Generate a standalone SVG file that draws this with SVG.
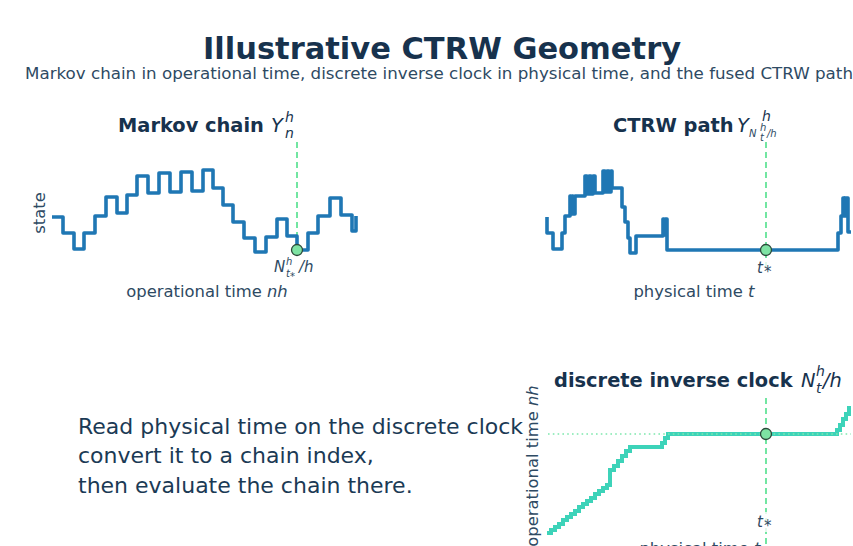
<svg xmlns="http://www.w3.org/2000/svg" width="853" height="546" viewBox="0 0 853 546">
<style>
text{font-family:"DejaVu Sans","Liberation Sans",sans-serif;fill:#1b3550}
.title{font-size:30.5px;font-weight:bold;fill:#17324d}
.sub{font-size:16.7px;fill:#2e4a63}
.pt{font-size:19.4px;font-weight:bold;fill:#17324d}
.mi{font-size:19.4px;font-style:italic;fill:#17324d}
.s14{font-size:14px;font-style:italic;fill:#17324d}
.ax{font-size:16.4px;fill:#2e4a63}
.sm{font-size:15px;font-style:italic;fill:#2e4a63}
.tiny{font-size:10px;font-style:italic;fill:#2e4a63}
.note{font-size:22px;fill:#1b3a55}
.chain{fill:none;stroke:#1f77b4;stroke-width:3.6;stroke-linejoin:round;stroke-linecap:butt}
.clock{fill:none;stroke:#3dd3b9;stroke-width:4;stroke-linejoin:miter}
.dash{fill:none;stroke:#72e6a2;stroke-width:2;stroke-dasharray:6 4}
.dot{fill:none;stroke:#7ee8ad;stroke-width:1.6;stroke-dasharray:1.6 3.2}
.mk{fill:#7ee3a3;stroke:#2c4a3b;stroke-width:1.3}
.bb{fill:#ffffff;fill-opacity:0.8}
</style>
<rect width="853" height="546" fill="#ffffff"/>
<g id="header">
<text class="title" x="442" y="59" text-anchor="middle">Illustrative CTRW Geometry</text>
<text class="sub" x="439" y="79" text-anchor="middle">Markov chain in operational time, discrete inverse clock in physical time, and the fused CTRW path</text>
</g>
<g id="markov-panel">
<text class="pt" x="118" y="132">Markov chain</text>
<text class="mi" x="271" y="132">Y</text>
<text class="s14" x="285" y="122">h</text>
<text class="s14" x="285" y="138">n</text>
<text class="ax" transform="translate(45,213) rotate(-90)" text-anchor="middle" font-size="17">state</text>
<text class="ax" x="207" y="297" text-anchor="middle">operational time <tspan font-style="italic">nh</tspan></text>
</g>
<g id="ctrw-panel">
<text class="pt" x="613" y="132" font-size="18.8">CTRW path</text>
<text class="mi" x="737" y="132">Y</text>
<text class="s14" x="762" y="121">h</text>
<text class="tiny" x="749" y="137" font-size="13">N</text>
<text class="tiny" x="760" y="131" font-size="9">h</text>
<text class="tiny" x="760" y="141" font-size="9">t</text>
<text class="tiny" x="767" y="137" font-size="13">/h</text>
<text class="ax" x="694" y="297" text-anchor="middle">physical time <tspan font-style="italic">t</tspan></text>
</g>
<g id="clock-panel">
<text class="pt" x="554" y="387">discrete inverse clock</text>
<text class="mi" x="801" y="387">N</text>
<text class="s14" x="816" y="376">h</text>
<text class="s14" x="816" y="393">t</text>
<text class="mi" x="823" y="387">/h</text>
<text class="ax" transform="translate(538,466) rotate(-90)" text-anchor="middle" font-size="17">operational time <tspan font-style="italic">nh</tspan></text>
<text class="ax" x="700" y="554" text-anchor="middle">physical time <tspan font-style="italic">t</tspan></text>
</g>
<g id="note">
<text class="note" x="78" y="434">Read physical time on the discrete clock</text>
<text class="note" x="78" y="463">convert it to a chain index,</text>
<text class="note" x="78" y="493">then evaluate the chain there.</text>
</g>
<g id="connectors">
<path class="dash" d="M297,142 V250"/>
<path class="chain" d="M52,217 H63 V233 H74 V249 H84 V233 H95 V216 H106 V197 H117 V213 H127 V195 H137 V176 H148 V193 H159 V173 H170 V192 H181 V172 H192 V191 H203 V170 H213 V188 H223 V205 H233 V222 H244 V238 H255 V252 H266 V237 H277 V219 H287 V236 H297 V250 H308 V233 H318 V216 H330 V198 H341 V215 H352 V231 H356 V216"/>
<rect class="bb" x="272" y="258" width="47" height="21"/>
<text class="sm" x="274" y="272">N</text>
<text class="tiny" x="286" y="265">h</text>
<text class="tiny" x="286" y="277">t</text>
<text class="tiny" x="290" y="280" font-size="7" font-style="normal">*</text>
<text class="sm" x="299" y="272">/h</text>
<circle class="mk" cx="297" cy="250" r="5.5"/>

<path class="dash" d="M766,142 V270"/>
<path class="chain" d="M547,217 V233 H553 V249 H562 V233 H565 V216 H570 V196 H571 V214 H572 V196 H573 V214 H575 V196 H585 V176 H587 V194 H589 V176 H591 V194 H593 V176 H595 V193 H603 V171 H605 V192 H607 V171 H609 V192 H611 V171 H612 V188 H622 V207 H625 V222 H628 V238 H630 V253 H636 V236 H663 V219 H664 V235 H665 V219 H667 V250 H838 V233 H841 V216 H843 V198 H844 V216 H845 V198 H848 V232 H851"/>
<rect class="bb" x="754" y="258" width="25" height="20"/>
<text class="sm" x="757" y="273">t</text>
<text class="sm" x="764" y="277" font-size="12" font-style="normal">*</text>
<circle class="mk" cx="766" cy="250" r="5.5"/>

<path class="dash" d="M766,398 V546"/>
<path class="clock" d="M547,533 h4 v-3 h4 v-3 h4 v-3 h4 v-4 h4 v-3 h4 v-3 h4 v-3 h4 v-4 h4 v-3 h4 v-3 h4 v-3 h4 v-4 h4 v-3 h4 v-3 h4 v-3 h3 v-2 v-13 h4 v-4 h4 v-5 h4 v-5 h4 v-5 h4 v-4 h5 h27 v-4 h3 v-5 h3 v-4 h169 v-4 h3 v-5 h3 v-6 h3 v-5 h3 v-6 h2"/>
<path class="dot" d="M548,434 H851"/>
<rect class="bb" x="754" y="512" width="25" height="20"/>
<text class="sm" x="757" y="527">t</text>
<text class="sm" x="764" y="531" font-size="12" font-style="normal">*</text>
<circle class="mk" cx="766" cy="434" r="5.5"/>
</g>
</svg>
